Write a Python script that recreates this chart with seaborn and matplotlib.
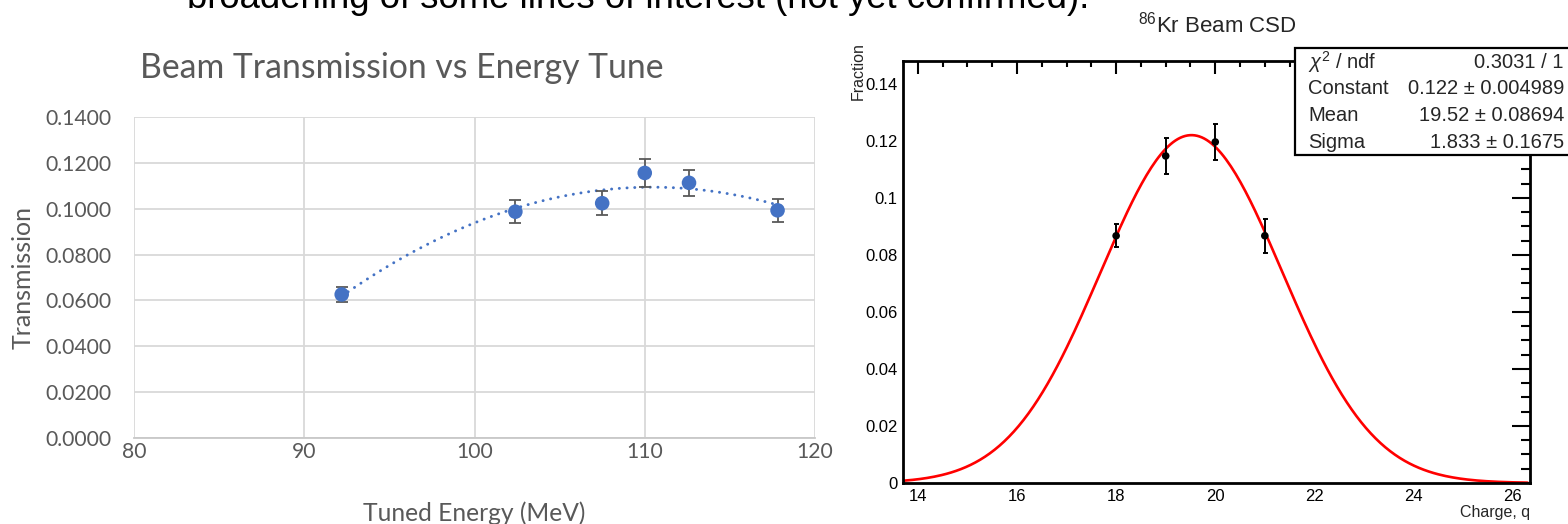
import numpy as np
import pandas as pd
import matplotlib
matplotlib.use("Agg")
import matplotlib.pyplot as plt
from matplotlib.ticker import MultipleLocator, FuncFormatter
from matplotlib.patches import Rectangle
import seaborn as sns

# ---------------- data ----------------
# Left chart: beam transmission vs tuned energy
energy_mev = [92.2, 102.4, 107.5, 110.0, 112.6, 117.8]
transmission = [0.0626, 0.0987, 0.1024, 0.1156, 0.1113, 0.0993]
transmission_err = [0.0033, 0.0050, 0.0053, 0.0060, 0.0058, 0.0049]
left_xticks = [80, 90, 100, 110, 120]
left_yticks = [0.0, 0.02, 0.04, 0.06, 0.08, 0.10, 0.12, 0.14]

# Right chart: 86Kr charge state distribution
charge_q = [18, 19, 20, 21]
fraction = [0.0867, 0.1147, 0.1196, 0.0867]
fraction_err = [0.0040, 0.0062, 0.0063, 0.0060]
fit_constant = 0.122
fit_mean = 19.52
fit_sigma = 1.833
stat_labels = [r"$\chi^2$ / ndf", "Constant", "Mean", "Sigma"]
stat_values = ["0.3031 / 1", "0.122 \u00b1 0.004989", "19.52 \u00b1 0.08694", "1.833 \u00b1 0.1675"]
right_xticks = [14, 16, 18, 20, 22, 24, 26]

# ---------------- figure ----------------
sns.set_theme(style="white")
plt.rcParams["font.family"] = ["Liberation Sans", "DejaVu Sans"]
plt.rcParams["mathtext.fontset"] = "custom"
plt.rcParams["mathtext.rm"] = "Liberation Sans"
plt.rcParams["mathtext.it"] = "Liberation Sans:italic"

W, H = 1568, 524
fig = plt.figure(figsize=(W / 100, H / 100), dpi=100)
fig.patch.set_facecolor("white")


def fx(px):
    return px / W


def fy(py):
    return 1 - py / H


# slide text cut at the top
fig.text(fx(187), fy(8), "broadening of some lines of interest (not yet confirmed).",
         fontsize=26.3, va="baseline", ha="left", color="black")

# ---------------- left chart (Excel style) ----------------
excel_font = ["Lato", "DejaVu Sans"]
gray = "#595959"
blue = "#4472C4"

ax1 = fig.add_axes([fx(134), fy(438), fx(815) - fx(134), fy(117) - fy(438)])
df1 = pd.DataFrame({"energy": energy_mev, "transmission": transmission})

coeffs = np.polyfit(energy_mev, transmission, 2)
xs = np.linspace(min(energy_mev), max(energy_mev), 300)
sns.lineplot(x=xs, y=np.polyval(coeffs, xs), ax=ax1, color=blue, lw=2.1,
             linestyle=(0, (0.05, 2.6)), zorder=2)
ax1.lines[-1].set_dash_capstyle("round")

ax1.errorbar(energy_mev, transmission, yerr=transmission_err, fmt="none",
             ecolor=gray, elinewidth=1.3, capsize=4.3, capthick=1.3, zorder=3)
sns.scatterplot(data=df1, x="energy", y="transmission", ax=ax1, color=blue,
                s=110, edgecolor="none", zorder=4)

ax1.set_xlim(80, 120)
ax1.set_ylim(0, 0.14)
ax1.set_xticks(left_xticks)
ax1.set_yticks(left_yticks)
ax1.yaxis.set_major_formatter(FuncFormatter(lambda v, p: f"{v:.4f}"))
ax1.xaxis.set_major_formatter(FuncFormatter(lambda v, p: f"{v:.0f}"))
ax1.grid(True, color="#d9d9d9", lw=1.3)
ax1.set_axisbelow(True)
for s in ["top", "right", "left"]:
    ax1.spines[s].set_visible(False)
ax1.spines["bottom"].set_color("#c8c8c8")
ax1.spines["bottom"].set_linewidth(1.3)
ax1.tick_params(length=0, labelsize=15.2, labelcolor=gray)
ax1.tick_params(axis="x", pad=3)
ax1.tick_params(axis="y", pad=16)
for lab in ax1.get_xticklabels() + ax1.get_yticklabels():
    lab.set_family(excel_font)
ax1.set_xlabel("Tuned Energy (MeV)", fontsize=17.7, color=gray, family=excel_font, labelpad=28)
ax1.set_ylabel("Transmission", fontsize=18, color=gray, family=excel_font, labelpad=8)
fig.text(fx(402), fy(68), "Beam Transmission vs Energy Tune", fontsize=24.3, color=gray,
         family=excel_font, ha="center", va="center")

# ---------------- right chart (ROOT style) ----------------
ax2 = fig.add_axes([fx(903), fy(483), fx(1530) - fx(903), fy(61) - fy(483)])
xg = np.linspace(13.7, 26.3, 260)
yg = fit_constant * np.exp(-0.5 * ((xg - fit_mean) / fit_sigma) ** 2)
sns.lineplot(x=xg, y=yg, ax=ax2, color="red", lw=1.9, zorder=2)

ax2.errorbar(charge_q, fraction, yerr=fraction_err, fmt="none", ecolor="black",
             elinewidth=1.4, capsize=1.8, capthick=1.4, zorder=3)
df2 = pd.DataFrame({"q": charge_q, "f": fraction})
sns.scatterplot(data=df2, x="q", y="f", ax=ax2, color="black", s=30,
                edgecolor="none", zorder=4)

ax2.set_xlim(13.7, 26.35)
ax2.set_ylim(0, 0.148)
ax2.set_xticks(right_xticks)
ax2.xaxis.set_minor_locator(MultipleLocator(0.5))
ax2.yaxis.set_major_locator(MultipleLocator(0.02))
ax2.yaxis.set_minor_locator(MultipleLocator(0.005))
ax2.yaxis.set_major_formatter(FuncFormatter(lambda v, p: f"{v:g}"))
for s in ax2.spines.values():
    s.set_color("black")
    s.set_linewidth(2.0)
ax2.tick_params(which="both", direction="in", top=True, right=True, color="black",
                width=1.5, labelsize=12, labelcolor="black")
ax2.tick_params(axis="x", which="major", length=9, pad=4)
ax2.tick_params(axis="x", which="minor", length=4.5)
ax2.tick_params(axis="y", which="major", length=13, pad=4)
ax2.tick_params(axis="y", which="minor", length=6.5)
ax2.set_xlabel("")
ax2.set_ylabel("")
fig.text(fx(1530), fy(513), "Charge, q", fontsize=11.5, ha="right", va="center")
fig.text(fx(858), fy(42), "Fraction", fontsize=11.5, rotation=90, ha="center", va="top")
fig.text(fx(1217), fy(32), r"$^{86}$Kr Beam CSD", fontsize=16, ha="center", va="baseline")

# stats box
box = Rectangle((fx(1295), fy(155)), fx(1620) - fx(1295), (155 - 48) / H,
                transform=fig.transFigure, facecolor="white", edgecolor="black",
                lw=1.6, clip_on=False, zorder=5)
fig.add_artist(box)
stat_rows_y = [62, 89, 115.5, 142]
for lab, val, yy in zip(stat_labels, stat_values, stat_rows_y):
    fig.text(fx(1308), fy(yy), lab, fontsize=14.5, ha="left", va="center", zorder=6)
    fig.text(fx(1564), fy(yy), val, fontsize=14.5, ha="right", va="center", zorder=6)

fig.savefig("out.png", dpi=100, facecolor="white")
